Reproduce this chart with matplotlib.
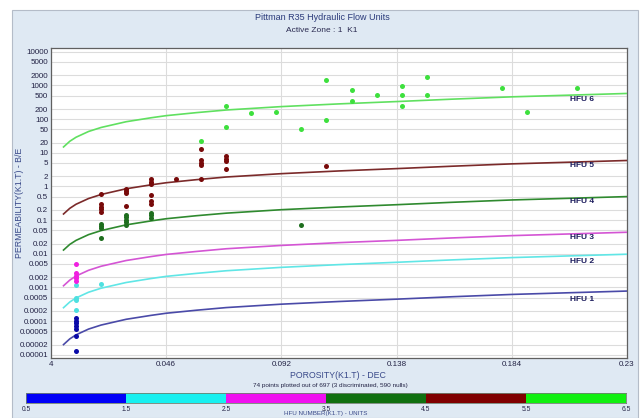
import matplotlib
matplotlib.use("Agg")
import matplotlib.pyplot as plt
from matplotlib.patches import Rectangle

plt.rcParams['font.family'] = ['Liberation Sans', 'DejaVu Sans']

# HFU model lines (porosity, permeability)
curve_phi = [0.005, 0.0075, 0.01, 0.015, 0.02, 0.03, 0.04, 0.046, 0.058, 0.07,
             0.092, 0.115, 0.138, 0.16, 0.184, 0.207, 0.23]
hfu_curves = {
    1: [2.0e-5, 2.96e-5, 3.9e-5, 5.79e-5, 7.62e-5, 1.13e-4, 1.48e-4, 1.71e-4, 2.1e-4,
        2.52e-4, 3.18e-4, 3.82e-4, 4.48e-4, 5.28e-4, 6.19e-4, 6.95e-4, 7.8e-4],
    2: [0.00025, 0.000369, 0.000486, 0.00072, 0.000948, 0.0014, 0.00184, 0.00213,
        0.00261, 0.00313, 0.00395, 0.00476, 0.00558, 0.00657, 0.0077, 0.00864, 0.0097],
    3: [0.00112, 0.00165, 0.00218, 0.00323, 0.00426, 0.0063, 0.00827, 0.00955, 0.0117,
        0.0141, 0.0177, 0.0214, 0.025, 0.0295, 0.0346, 0.0388, 0.0436],
    4: [0.0129, 0.019, 0.025, 0.0371, 0.0488, 0.0723, 0.0949, 0.110, 0.135, 0.161,
        0.204, 0.245, 0.287, 0.338, 0.397, 0.445, 0.50],
    5: [0.152, 0.224, 0.296, 0.438, 0.577, 0.854, 1.12, 1.29, 1.59, 1.91, 2.40, 2.89,
        3.39, 3.99, 4.69, 5.26, 5.91],
    6: [14.9, 22.0, 29.0, 43.0, 56.6, 83.8, 110, 127, 156, 187, 236, 284, 333, 392,
        460, 516, 580],
}

# plotted samples per HFU
pts_phi = {
    1: [0.01, 0.01, 0.01, 0.01, 0.01, 0.01, 0.01],
    2: [0.01, 0.01, 0.01, 0.01, 0.02],
    3: [0.01, 0.01, 0.01, 0.01, 0.01],
    4: [0.02, 0.02, 0.02, 0.02, 0.03, 0.03, 0.03, 0.03, 0.03, 0.04, 0.04, 0.04, 0.10],
    5: [0.02, 0.02, 0.02, 0.02, 0.02, 0.03, 0.03, 0.03, 0.03,
        0.04, 0.04, 0.04, 0.04, 0.04, 0.04, 0.05,
        0.06, 0.06, 0.06, 0.06, 0.06, 0.07, 0.07, 0.07, 0.07, 0.11],
    6: [0.06, 0.07, 0.07, 0.08, 0.09, 0.10, 0.11, 0.11, 0.12, 0.12,
        0.13, 0.14, 0.14, 0.14, 0.15, 0.15, 0.18, 0.19, 0.21],
}
pts_perm = {
    1: [1.2e-4, 1.0e-4, 8.5e-5, 7.0e-5, 5.9e-5, 3.7e-5, 1.3e-5],
    2: [0.0012, 0.00048, 0.00041, 0.00022, 0.0013],
    3: [0.0048, 0.0027, 0.0022, 0.0019, 0.0016],
    4: [0.078, 0.065, 0.058, 0.029, 0.145, 0.122, 0.1, 0.085, 0.07,
        0.165, 0.138, 0.112, 0.072],
    5: [0.6, 0.31, 0.25, 0.21, 0.17, 0.85, 0.72, 0.62, 0.26,
        1.65, 1.4, 1.18, 0.54, 0.38, 0.30, 1.7,
        13, 6.1, 5.0, 4.2, 1.7, 8.0, 6.6, 5.6, 3.3, 4.0],
    6: [23, 245, 60, 150, 162, 52, 1450, 93, 720, 355,
        510, 960, 510, 245, 1820, 510, 870, 165, 870],
}

hfu_names = ['HFU 1', 'HFU 2', 'HFU 3', 'HFU 4', 'HFU 5', 'HFU 6']
label_perm = [0.00045, 0.0058, 0.03, 0.36, 4.1, 390]

y_ticks = [10000, 5000, 2000, 1000, 500, 200, 100, 50, 20, 10, 5, 2, 1,
           0.5, 0.2, 0.1, 0.05, 0.02, 0.01, 0.005, 0.002, 0.001, 0.0005,
           0.0002, 0.0001, 0.00005, 0.00002, 0.00001]
y_labels = ['10000', '5000', '2000', '1000', '500', '200', '100', '50', '20',
            '10', '5', '2', '1', '0.5', '0.2', '0.1', '0.05', '0.02', '0.01',
            '0.005', '0.002', '0.001', '0.0005', '0.0002', '0.0001',
            '0.00005', '0.00002', '0.00001']
x_ticks = [0, 0.046, 0.092, 0.138, 0.184, 0.23]
x_labels = ['4', '0.046', '0.092', '0.138', '0.184', '0.23']

cbar_edges = [0.5, 1.5, 2.5, 3.5, 4.5, 5.5, 6.5]
cbar_colors = ['#0000f8', '#18f0f0', '#f010f0', '#107010', '#800000', '#10f010']

line_colors = {1: '#4a4aa8', 2: '#60e6e6', 3: '#d455d4', 4: '#2f8a2f', 5: '#7b2a2a', 6: '#60e060'}
dot_colors = {1: '#0a0aa8', 2: '#4ee0e0', 3: '#f020e0', 4: '#1e6e1e', 5: '#780a0a', 6: '#3ee03e'}

fig = plt.figure(figsize=(6.44, 4.18), dpi=100)
fig.patch.set_facecolor('white')
panel = Rectangle((12 / 644, 0), 626 / 644, 408 / 418, transform=fig.transFigure,
                  facecolor='#dfe9f3', edgecolor='#b4bcc8', lw=0.8, zorder=-10)
fig.add_artist(panel)

ax = fig.add_axes([51 / 644, 1 - 358 / 418, 576 / 644, 310 / 418])
ax.set_facecolor('white')
ax.set_yscale('log')
ax.set_xlim(0, 0.23)
ax.set_ylim(8e-6, 1.3e4)

for h in range(1, 7):
    ax.plot(curve_phi, hfu_curves[h], color=line_colors[h], lw=1.2, zorder=3)
    ax.scatter(pts_phi[h], pts_perm[h], s=13, color=dot_colors[h], zorder=4, linewidths=0)
    ax.text(0.212, label_perm[h - 1], hfu_names[h - 1], fontsize=6, fontweight='bold',
            color='#1b1b5c', ha='center', va='center', zorder=5)

ax.set_yticks(y_ticks)
ax.set_yticklabels(y_labels)
ax.minorticks_off()
ax.set_xticks(x_ticks)
ax.set_xticklabels(x_labels)
ax.tick_params(length=0, labelsize=5.8, labelcolor='#222244', pad=2)
ax.grid(True, color='#dcdcdc', lw=0.8)
ax.set_axisbelow(True)
for s in ax.spines.values():
    s.set_color('#606060')
    s.set_linewidth(0.9)

ax.set_ylabel('PERMEABILITY(K1.T) - B/E', fontsize=6.3, color='#3a4a8a')
ax.yaxis.set_label_coords(-0.047, 0.5)
fig.text(338 / 644, 1 - 375 / 418, 'POROSITY(K1.T) - DEC', fontsize=6.3, color='#3a4a8a',
         ha='center', va='center')
fig.text(330 / 644, 1 - 386 / 418, '74 points plotted out of 697 (3 discriminated, 590 nulls)',
         fontsize=4.6, color='#222244', ha='center', va='center')

fig.text(0.5, 1 - 18 / 418, 'Pittman R35 Hydraulic Flow Units', fontsize=6.5, color='#2a3a7a',
         ha='center', va='center')
fig.text(0.5, 1 - 31 / 418, 'Active Zone : 1  K1', fontsize=6, color='#2a2a50',
         ha='center', va='center')

# colour bar of HFU classes
cax = fig.add_axes([26 / 644, 1 - 403 / 418, 600 / 644, 10 / 418])
for i in range(len(cbar_colors)):
    cax.barh(0, cbar_edges[i + 1] - cbar_edges[i], left=cbar_edges[i], height=1,
             color=cbar_colors[i], edgecolor='none')
cax.set_xlim(0.5, 6.5)
cax.set_ylim(-0.5, 0.5)
cax.set_yticks([])
cax.set_xticks(cbar_edges)
cax.set_xticklabels(['0.5', '1.5', '2.5', '3.5', '4.5', '5.5', '6.5'])
cax.tick_params(length=0, labelsize=4.8, labelcolor='#222244', pad=2)
for s in cax.spines.values():
    s.set_color('#708070')
    s.set_linewidth(0.6)
fig.text(326 / 644, 1 - 414 / 418, 'HFU NUMBER(K1.T) - UNITS', fontsize=4.5, color='#3a4a8a',
         ha='center', va='center')

fig.savefig('out.png', dpi=100)
